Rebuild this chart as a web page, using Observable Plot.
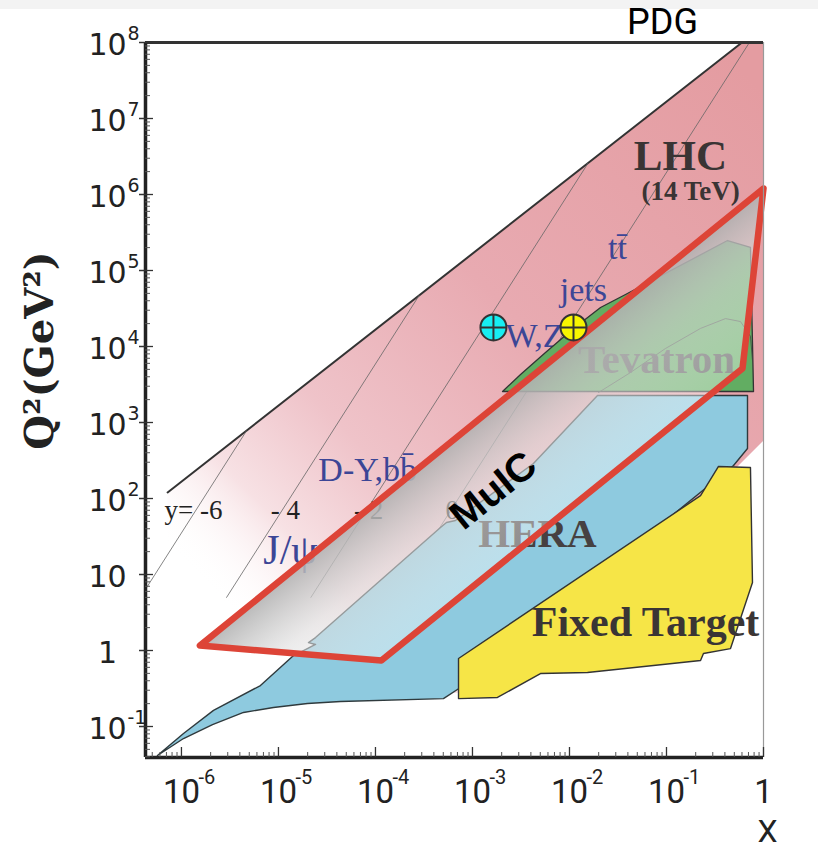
<!DOCTYPE html>
<html><head><meta charset="utf-8">
<script src="https://cdn.jsdelivr.net/npm/d3@7"></script>
<script src="https://cdn.jsdelivr.net/npm/@observablehq/plot@0.6"></script>
<style>
html,body{margin:0;padding:0;background:#fff;}
#chart{width:818px;height:854px;background:linear-gradient(#f3f3f3 0,#f3f3f3 9px,#fff 9px);}
#chart svg{display:block;}
</style></head><body><div id="chart"></div>
<script>
// ---------- axes ----------
const xDomain = [4.26e-7, 1];
const yDomain = [0.0391, 1e8];
const xTickValues = [1e-6, 1e-5, 1e-4, 1e-3, 1e-2, 1e-1, 1];
const xTickBase = ["10", "10", "10", "10", "10", "10", "1"];
const xTickExp = ["-6", "-5", "-4", "-3", "-2", "-1", ""];
const yTickValues = [1e-1, 1, 10, 1e2, 1e3, 1e4, 1e5, 1e6, 1e7, 1e8];
const yTickBase = ["10", "1", "10", "10", "10", "10", "10", "10", "10", "10"];
const yTickExp = ["-1", "", "", "2", "3", "4", "5", "6", "7", "8"];

// ---------- regions [x, Q2] ----------
const lhcRegion = [[7.2e-7, 120], [0.6, 1e8], [1, 1e8], [1, 580], [0.491, 233], [7.52e-4, 0.28], [1.69e-5, 0.189], [6.08e-7, 0.0455]];
const lhcEdge = [[7.2e-7, 120], [0.6, 1e8]];
const rapidityLines = [
  [[4.3e-7, 6.5], [4.68e-6, 776]],
  [[2.92e-6, 5], [2.82e-4, 4.7e4]],
  [[2.16e-5, 5], [0.0155, 2.57e6]],
  [[1.6e-4, 5], [0.716, 1e8]]
];
const tevatronRegion = [[2.04e-3, 2560], [3.13e-3, 4280], [5.66e-3, 8340], [0.011, 1.73e4], [0.0209, 3.26e4], [0.0378, 4.83e4], [0.4256, 2.48e5], [0.734, 2.01e5], [0.789, 2560]];
const tevatronCurve = [[0.0199, 2480], [0.0426, 4550], [0.0977, 9420], [0.2244, 1.73e4], [0.4055, 2.33e4], [0.579, 2.13e4], [0.734, 1.36e4], [0.77, 6550]];
const heraRegion = [[5.66e-7, 0.0415], [1.05e-6, 0.0695], [2.09e-6, 0.106], [4.36e-6, 0.153], [8.88e-6, 0.178], [1.99e-5, 0.201], [4.36e-5, 0.213], [5.02e-4, 0.233], [7.52e-4, 0.326], [0.491, 272], [0.684, 455], [0.684, 2265], [0.01944, 2265], [4.25e-3, 289], [6.68e-4, 51.4], [5.40e-4, 48.3], [4.68e-4, 41.5], [2.41e-5, 1.48], [2.04e-5, 1.27], [2.41e-5, 1.20], [1.81e-5, 1.0], [1.43e-5, 0.859], [6.52e-6, 0.346], [2.14e-6, 0.163], [1.05e-6, 0.081]];
const fixedTargetRegion = [[7.18e-4, 0.785], [7.18e-4, 0.233], [1.81e-3, 0.241], [5.02e-3, 0.498], [0.01534, 0.514], [0.2244, 0.738], [0.2405, 0.914], [0.457, 1.06], [0.770, 7.85], [0.734, 256], [0.3436, 264], [0.2244, 109]];
const muicRegion = [[1.55e-6, 1.16], [1.15e-4, 0.738], [0.6075, 5140], [1.0, 1.2e6]];
const wzMarkers = [[1.645e-3, 1.78e4], [0.011, 1.78e4]];
const markerColors = ["#17eef2", "#f8f500"];

// ---------- annotations ----------
const annotations = [
  {key: "lhc", text: "LHC", x: 0.139, q: 3.15e6},
  {key: "tev14", text: "(14 TeV)", x: 0.177, q: 1.1e6},
  {key: "blue", text: "tt\u0304", x: 0.0313, q: 2.0e5},
  {key: "blue", text: "jets", x: 0.0139, q: 5.5e4},
  {key: "blue", text: "W,Z", x: 4.36e-3, q: 1.35e4},
  {key: "blue", text: "D-Y,bb\u0304", x: 8.3e-5, q: 234},
  {key: "jpsi", text: "J/\u03c8", x: 1.33e-5, q: 20.7},
  {key: "rap", text: "y= -6", x: 1.33e-6, q: 69},
  {key: "rap", text: "- 4", x: 1.18e-5, q: 69},
  {key: "rap", text: "- 2", x: 8.5e-5, q: 69},
  {key: "rap", text: "0", x: 6.2e-4, q: 69},
  {key: "tevatron", text: "Tevatron", x: 0.079, q: 6.6e3},
  {key: "hera", text: "HERA", x: 4.68e-3, q: 34.7},
  {key: "fixed", text: "Fixed Target", x: 0.0608, q: 2.33},
  {key: "muic", text: "MuIC", x: 1.645e-3, q: 127}
];
const yTitle = [{text: "Q\u00b2(GeV\u00b2)", q: 8850}];
const ann = k => annotations.filter(d => d.key === k);

// gradient anchor points [x, Q2]
const lhcGradPts = [[0.55, 5e7], [1.6e-6, 8]];
const muicGradPts = [[1.24e-3, 1200], [8.27e-3, 59.7]];

// minor ticks (axis construction)
const minorX = [], minorY = [];
for (let e = -7; e <= 0; e++) for (let m = 2; m <= 9; m++) { const v = m * 10 ** e; if (v >= xDomain[0] && v <= xDomain[1]) minorX.push(v); }
for (let e = -2; e <= 8; e++) for (let m = 2; m <= 9; m++) { const v = m * 10 ** e; if (v >= yDomain[0] && v <= yDomain[1]) minorY.push(v); }

const pts = a => a.map(p => ({x: p[0], q: p[1]}));
const rapData = rapidityLines.flatMap((l, i) => l.map(p => ({x: p[0], q: p[1], z: i})));

const defsMark = (index, scales) => {
  const sx = scales.x, sy = scales.y;
  const defs = d3.create("svg:defs");
  const lg = defs.append("linearGradient").attr("id", "lhcGrad").attr("gradientUnits", "userSpaceOnUse")
    .attr("x1", sx(lhcGradPts[0][0])).attr("y1", sy(lhcGradPts[0][1]))
    .attr("x2", sx(lhcGradPts[1][0])).attr("y2", sy(lhcGradPts[1][1]));
  [[0, "#e49ca1", 1], [0.45, "#e8aab1", 1], [0.72, "#efc3c9", 1], [0.87, "#f7e1e4", 1], [1, "#ffffff", 0]]
    .forEach(([o, c, a]) => lg.append("stop").attr("offset", o).attr("stop-color", c).attr("stop-opacity", a));
  const mg = defs.append("linearGradient").attr("id", "muicGrad").attr("gradientUnits", "userSpaceOnUse")
    .attr("x1", sx(muicGradPts[0][0])).attr("y1", sy(muicGradPts[0][1]))
    .attr("x2", sx(muicGradPts[1][0])).attr("y2", sy(muicGradPts[1][1]));
  [[0, "#b0b0b0", 0.9], [0.45, "#dedede", 0.6], [1, "#ffffff", 0.4]]
    .forEach(([o, c, a]) => mg.append("stop").attr("offset", o).attr("stop-color", c).attr("stop-opacity", a));
  return defs.node();
};

const circlePlus = {
  draw(ctx, size) {
    const r = Math.sqrt(size / Math.PI);
    ctx.moveTo(r, 0); ctx.arc(0, 0, r, 0, 2 * Math.PI);
    ctx.moveTo(-r, 0); ctx.lineTo(r, 0);
    ctx.moveTo(0, -r); ctx.lineTo(0, r);
  }
};

const serif = "'Liberation Serif', 'Times New Roman', serif";
const frameW = 818 - 145 - 55, frameH = 854 - 42 - 97;
const narrow = "'Liberation Sans Narrow', 'Roboto', 'Liberation Sans', sans-serif";
const wide = "'DejaVu Sans', sans-serif";

const chart = Plot.plot({
  width: 818, height: 854,
  marginLeft: 145, marginRight: 55, marginTop: 42, marginBottom: 97,
  x: {type: "log", domain: xDomain, axis: null},
  y: {type: "log", domain: yDomain, axis: null},
  style: {background: "transparent", overflow: "visible"},
  marks: [
    defsMark,
    Plot.line(pts(lhcRegion), {x: "x", y: "q", curve: "linear-closed", fill: "url(#lhcGrad)", stroke: "none"}),
    Plot.line(pts(lhcEdge), {x: "x", y: "q", stroke: "#333", strokeWidth: 2}),
    Plot.line(rapData, {x: "x", y: "q", z: "z", stroke: "#666", strokeWidth: 0.8}),
    Plot.text(ann("rap"), {x: "x", y: "q", text: "text", fontSize: 27, fontFamily: serif, fill: "#222"}),
    Plot.text(ann("blue"), {x: "x", y: "q", text: "text", fontSize: 34, fontFamily: serif, fill: "#3c4696"}),
    Plot.text(ann("jpsi"), {x: "x", y: "q", text: "text", fontSize: 42, fontFamily: serif, fill: "#3c4696"}),
    Plot.line(pts(tevatronRegion), {x: "x", y: "q", curve: "linear-closed", fill: "#62ad62", stroke: "#333", strokeWidth: 1.3}),
    Plot.line(pts(tevatronCurve), {x: "x", y: "q", stroke: "#444", strokeWidth: 1, strokeOpacity: 0.8}),
    Plot.line(pts(heraRegion), {x: "x", y: "q", curve: "linear-closed", fill: "#8ecadf", stroke: "#2f3a3d", strokeWidth: 1.4}),
    Plot.line(pts(fixedTargetRegion), {x: "x", y: "q", curve: "linear-closed", fill: "#f6e547", stroke: "#333", strokeWidth: 1.4}),
    Plot.text(ann("tevatron"), {x: "x", y: "q", text: "text", fontSize: 41, fontWeight: "bold", fontFamily: serif, fill: "#555"}),
    Plot.text(ann("hera"), {x: "x", y: "q", text: "text", fontSize: 41, fontWeight: "bold", fontFamily: serif, fill: "#464141"}),
    Plot.text(ann("fixed"), {x: "x", y: "q", text: "text", fontSize: 42, fontWeight: "bold", fontFamily: serif, fill: "#3a3535"}),
    Plot.text(ann("lhc"), {x: "x", y: "q", text: "text", fontSize: 43, fontWeight: "bold", fontFamily: serif, fill: "#3a3434"}),
    Plot.text(ann("tev14"), {x: "x", y: "q", text: "text", fontSize: 27, fontWeight: "bold", fontFamily: serif, fill: "#3a3434"}),
    Plot.line(pts(muicRegion), {x: "x", y: "q", curve: "linear-closed", fill: "url(#muicGrad)", stroke: "none"}),
    Plot.line(pts(muicRegion), {x: "x", y: "q", curve: "linear-closed", fill: "none", stroke: "#dd4437", strokeWidth: 6.5, strokeLinejoin: "round"}),
    Plot.text(ann("muic"), {x: "x", y: "q", text: "text", fontSize: 40, fontWeight: "bold", fontFamily: "'Liberation Sans', Arial, sans-serif", fill: "#000", rotate: -39}),
    Plot.dot(pts([wzMarkers[0]]), {x: "x", y: "q", r: 13, symbol: circlePlus, fill: markerColors[0], stroke: "#333", strokeWidth: 2}),
    Plot.dot(pts([wzMarkers[1]]), {x: "x", y: "q", r: 13, symbol: circlePlus, fill: markerColors[1], stroke: "#333", strokeWidth: 2}),
    // frame
    Plot.ruleX([xDomain[1]], {stroke: "#999", strokeWidth: 1.2}),
    Plot.ruleY([yDomain[1]], {stroke: "#333", strokeWidth: 3}),
    Plot.ruleY([yDomain[0]], {stroke: "#222", strokeWidth: 3.5}),
    Plot.ruleX([xDomain[0]], {stroke: "#222", strokeWidth: 3.5}),
    // ticks
    Plot.tickY(minorY, {y: d => d, insetRight: frameW - 5, stroke: "#555", strokeWidth: 1}),
    Plot.tickY(yTickValues, {y: d => d, insetRight: frameW - 8, stroke: "#333", strokeWidth: 1.3}),
    Plot.tickY(yTickValues, {y: d => d, insetRight: frameW - 6, dx: -6, stroke: "#333", strokeWidth: 1.5}),
    Plot.tickX(minorX, {x: d => d, insetTop: frameH - 5, stroke: "#555", strokeWidth: 1}),
    Plot.tickX(xTickValues, {x: d => d, insetTop: frameH - 10, stroke: "#333", strokeWidth: 1.3}),
    // tick labels
    Plot.text(yTickValues, {y: d => d, text: (d, i) => yTickBase[i], frameAnchor: "left", dx: -38, dy: 3, textAnchor: "middle", fontSize: 30, fontFamily: wide, fill: "#222"}),
    Plot.text(yTickValues, {y: d => d, text: (d, i) => yTickExp[i], frameAnchor: "left", dx: -18, dy: -9, textAnchor: "start", fontSize: 19, fontFamily: wide, fill: "#222"}),
    Plot.text(xTickValues, {x: d => d, text: (d, i) => xTickBase[i], frameAnchor: "bottom", dy: 35, lineAnchor: "middle", textAnchor: "middle", fontSize: 33, fontFamily: narrow, fill: "#222"}),
    Plot.text(xTickValues, {x: d => d, text: (d, i) => xTickExp[i], frameAnchor: "bottom", dx: 17, dy: 20, lineAnchor: "middle", textAnchor: "start", fontSize: 20, fontFamily: narrow, fill: "#222"}),
    // titles
    Plot.text(yTitle, {y: "q", text: "text", frameAnchor: "left", dx: -105, rotate: -90, textAnchor: "middle", fontSize: 40, fontWeight: "bold", fontFamily: "'DejaVu Serif', serif", fill: "#222"}),
    Plot.text(["X"], {text: d => d, frameAnchor: "bottom-right", dx: 4, dy: 74, lineAnchor: "middle", textAnchor: "middle", fontSize: 32, fontFamily: narrow, fill: "#222"}),
    Plot.text(["PDG"], {text: d => d, frameAnchor: "top-right", dx: -101, dy: -20, lineAnchor: "middle", textAnchor: "middle", fontSize: 36, fontFamily: narrow, fill: "#000"})
  ]
});
document.getElementById("chart").appendChild(chart);
</script>
</body></html>
